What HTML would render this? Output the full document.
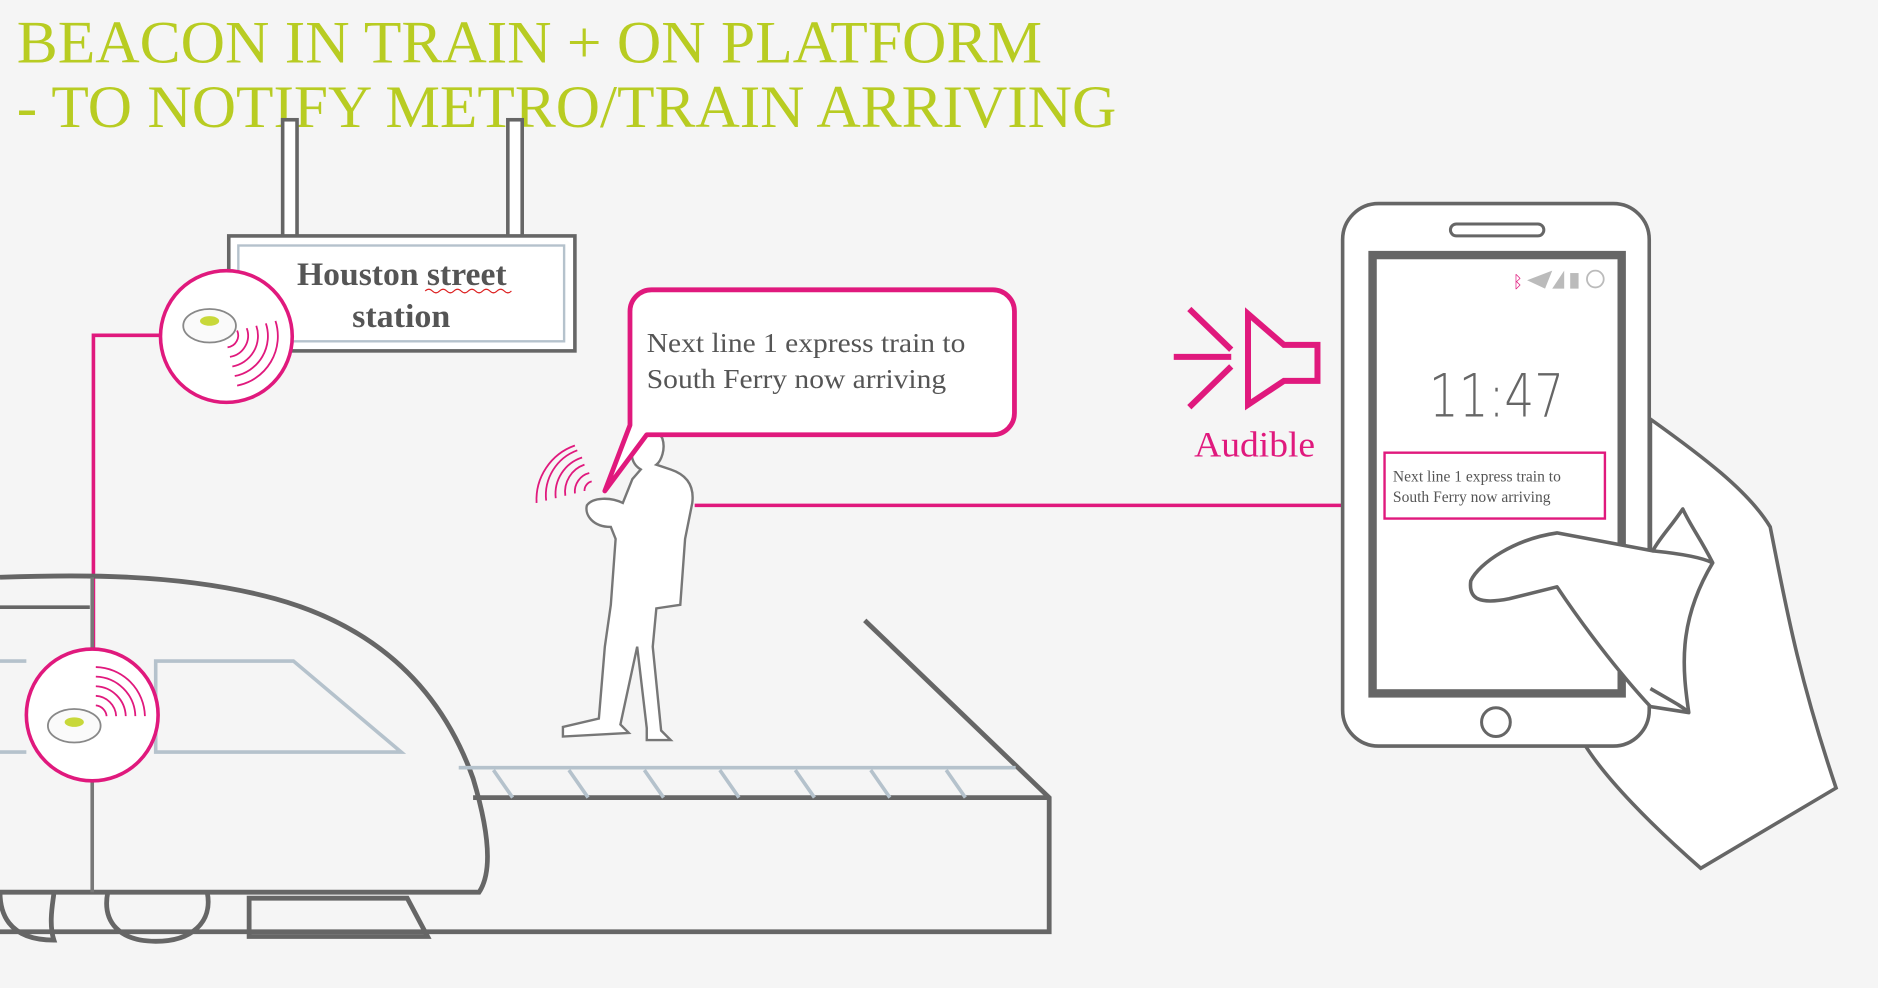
<!DOCTYPE html>
<html><head><meta charset="utf-8"><style>
html,body{margin:0;padding:0;background:#f5f5f5;}
svg{display:block}
</style></head><body>
<svg width="1878" height="988" viewBox="0 0 1568 825" preserveAspectRatio="none" xmlns="http://www.w3.org/2000/svg">
<rect width="1568" height="825" fill="#f5f5f5"/>
<g font-family="Liberation Serif, serif" fill="#b8cc22" font-size="50">
<text x="14" y="52" textLength="856" lengthAdjust="spacingAndGlyphs">BEACON IN TRAIN + ON PLATFORM</text>
<text x="14" y="106" textLength="918" lengthAdjust="spacingAndGlyphs">- TO NOTIFY METRO/TRAIN ARRIVING</text>
</g>
<!-- sign -->
<g fill="#fff" stroke="#666" stroke-width="3">
<rect x="236" y="100" width="12" height="98"/>
<rect x="424" y="100" width="12" height="98"/>
<rect x="191" y="197" width="289" height="96"/>
</g>
<rect x="199" y="205" width="272" height="80" fill="#fff" stroke="#b5c2cc" stroke-width="2"/>
<g font-family="Liberation Serif, serif" font-weight="bold" font-size="27" fill="#555">
<text x="248" y="238" textLength="175" lengthAdjust="spacingAndGlyphs">Houston street</text><text x="294" y="273" textLength="82" lengthAdjust="spacingAndGlyphs">station</text>
</g>
<path d="M355 243 q3 -3 6 0 t6 0 t6 0 t6 0 t6 0 t6 0 t6 0 t6 0 t6 0 t6 0 t6 0 t6 0" fill="none" stroke="#d22" stroke-width="1"/>
<!-- magenta connector lines -->
<g stroke="#e0197d" stroke-width="3" fill="none">
<path d="M134 280 H78 V543"/>
<path d="M580 422 H1120"/>
</g>
<!-- train -->
<g fill="none" stroke="#666" stroke-width="4">
<path d="M0 482 C60 480 150 478 230 500 C320 525 370 580 395 650 C410 700 410 730 400 745 L0 745"/>
<path d="M0 745 C0 760 5 785 45 785 C 40 770 45 750 45 745" />
<path d="M90 745 C85 770 100 786 130 786 C160 786 178 770 173 745"/>
<path d="M208 750 H340 L357 782 H208 Z"/>
</g>
<line x1="0" y1="507" x2="75" y2="507" stroke="#666" stroke-width="3"/>
<line x1="77" y1="482" x2="77" y2="745" stroke="#777" stroke-width="3"/>
<g fill="none" stroke="#b5c2cc" stroke-width="3">
<path d="M130 552 H245 L335 628 H130 Z"/>
<path d="M0 552 H22 M0 628 H22"/>
</g>
<!-- platform -->
<g fill="none" stroke="#666" stroke-width="4">
<path d="M722 518 L876 666 V778 H0"/>
<path d="M395 666 H876"/>
</g>
<g stroke="#b5c2cc" stroke-width="3" fill="none">
<path d="M383 641 H848"/>
<path d="M412 643 L428 666 M475 643 L491 666 M538 643 L554 666 M601 643 L617 666 M664 643 L680 666 M727 643 L743 666 M790 643 L806 666"/>
</g>
<!-- beacons -->
<g>
<circle cx="189" cy="281" r="55" fill="#fff" stroke="#e0197d" stroke-width="3"/>
<ellipse cx="175" cy="272" rx="22" ry="14" fill="#fafafa" stroke="#888" stroke-width="1.5"/>
<ellipse cx="175" cy="268" rx="8" ry="4" fill="#c8d83a"/>
<g fill="none" stroke="#e0197d" stroke-width="1.5">
<path d="M198 276 A10 10 0 0 1 190 290"/><path d="M206 274 A18 18 0 0 1 192 298"/><path d="M214 272 A26 26 0 0 1 194 306"/><path d="M222 270 A34 34 0 0 1 196 314"/><path d="M230 268 A42 42 0 0 1 198 322"/>
</g>
<circle cx="77" cy="597" r="55" fill="#fff" stroke="#e0197d" stroke-width="3"/>
<ellipse cx="62" cy="606" rx="22" ry="14" fill="#fafafa" stroke="#888" stroke-width="1.5"/>
<ellipse cx="62" cy="603" rx="8" ry="4" fill="#c8d83a"/>
<g fill="none" stroke="#e0197d" stroke-width="1.5">
<path d="M80 589 A10 10 0 0 1 89 598"/><path d="M80 581 A18 18 0 0 1 97 598"/><path d="M80 573 A26 26 0 0 1 105 598"/><path d="M80 565 A34 34 0 0 1 113 598"/><path d="M80 557 A42 42 0 0 1 121 598"/>
</g>
</g>
<!-- person -->
<g fill="#fff" stroke="#777" stroke-width="2">
<path d="M528 372 C530 360 548 356 553 366 C556 375 552 385 548 388 L560 392 C572 396 580 404 578 420 L572 450 L568 505 L548 508 L545 540 L552 610 L560 618 L540 618 L540 608 L532 540 L518 605 L525 612 L470 615 L470 607 L500 600 L505 540 L510 505 L514 450 L510 440 C495 440 488 430 490 422 C495 415 510 415 520 420 L528 400 L535 392 C528 388 526 380 528 372 Z"/>
</g>
<g fill="none" stroke="#e0197d" stroke-width="1.5">
<path d="M488 410 a8 8 0 0 1 6 -8"/><path d="M480 412 a16 16 0 0 1 12 -17"/><path d="M472 414 a24 24 0 0 1 16 -26"/><path d="M464 416 a32 32 0 0 1 22 -34"/><path d="M456 418 a40 40 0 0 1 26 -42"/><path d="M448 420 a48 48 0 0 1 32 -48"/>
</g>
<!-- speech bubble -->
<path d="M544 242 H829 a18 18 0 0 1 18 18 V345 a18 18 0 0 1 -18 18 H540 L505 410 L526 355 V260 a18 18 0 0 1 18 -18 Z" fill="#fff" stroke="#e0197d" stroke-width="4" stroke-linejoin="round"/>
<g font-family="Liberation Serif, serif" font-size="23" fill="#555">
<text x="540" y="294" textLength="266" lengthAdjust="spacingAndGlyphs">Next line 1 express train to</text>
<text x="540" y="324" textLength="250" lengthAdjust="spacingAndGlyphs">South Ferry now arriving</text>
</g>
<!-- audible -->
<g fill="none" stroke="#e0197d" stroke-width="5">
<path d="M993 258 L1028 292 M980 298 H1028 M993 340 L1028 306"/>
<path d="M1042 262 L1072 288 H1100 V318 H1072 L1042 338 Z"/>
</g>
<text x="997" y="381" font-family="Liberation Serif, serif" font-size="30" fill="#e0197d" textLength="101" lengthAdjust="spacingAndGlyphs">Audible</text>
<!-- hand back -->
<g fill="#fff" stroke="#666" stroke-width="3">
<path d="M1378 350 C1420 380 1460 410 1478 440 C1490 500 1500 560 1533 658 L1420 725 C1380 690 1340 650 1322 620 L1378 590 Z"/>
</g>
<!-- phone -->
<rect x="1121" y="170" width="256" height="453" rx="30" fill="#fff" stroke="#666" stroke-width="3"/>
<rect x="1211" y="187" width="78" height="10" rx="5" fill="#fff" stroke="#666" stroke-width="2.5"/>
<rect x="1146" y="213" width="208" height="366" fill="#fff" stroke="#666" stroke-width="7"/>
<circle cx="1249" cy="603" r="12" fill="#fff" stroke="#666" stroke-width="2.5"/>
<g fill="#bbb">
<path d="M1275 234 L1296 226 L1290 241 Z"/>
<path d="M1296 241 L1306 226 V241 Z"/>
<rect x="1311" y="228" width="7" height="13"/>
</g>
<circle cx="1332" cy="233" r="7" fill="none" stroke="#bbb" stroke-width="1.5"/>
<text x="1263" y="240" font-size="14" fill="#e0197d" font-family="DejaVu Sans, sans-serif">ᛒ</text>
<text x="1193" y="348" font-family="DejaVu Sans, sans-serif" font-size="50" fill="#666" font-weight="200" textLength="113" lengthAdjust="spacingAndGlyphs">11:47</text>
<rect x="1156" y="378" width="184" height="55" fill="#fff" stroke="#e0197d" stroke-width="2"/>
<g font-family="Liberation Serif, serif" font-size="13" fill="#555">
<text x="1163" y="402">Next line 1 express train to</text>
<text x="1163" y="419">South Ferry now arriving</text>
</g>
<!-- thumb/fingers -->
<g fill="#fff" stroke="#666" stroke-width="3" stroke-linejoin="round">
<path d="M1405 425 C1395 440 1385 450 1380 460 L1300 445 C1265 450 1235 470 1228 485 C1226 500 1235 505 1260 500 L1300 490 C1320 520 1350 560 1378 590 L1410 595 C1405 560 1400 520 1430 470 C1420 450 1412 440 1405 425 Z"/>
<path d="M1380 460 C1400 462 1420 465 1430 470"/>
<path d="M1378 575 C1395 585 1405 590 1410 595"/>
</g>
</svg>
</body></html>
